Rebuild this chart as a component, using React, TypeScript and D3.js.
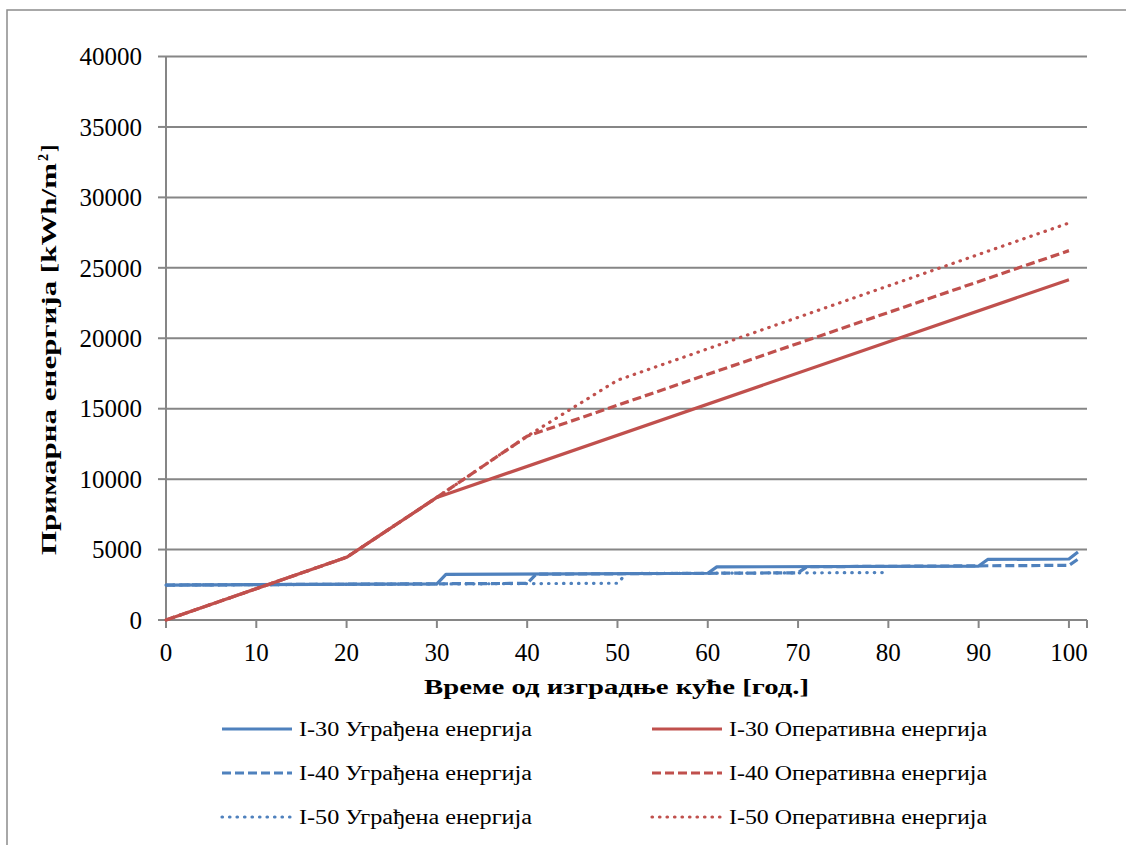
import React from "react";
import * as d3 from "d3";

type Pt = [number, number];

// Embodied energy (Уграђена енергија), breakpoints [year, kWh/m²]
const embodiedI30: Pt[] = [[0, 2480], [30, 2570], [31, 3240], [60, 3320], [61, 3770], [90, 3830], [91, 4300], [100, 4330], [101, 4820]];
const embodiedI40: Pt[] = [[0, 2480], [40, 2600], [41, 3250], [70, 3350], [71, 3780], [100, 3880], [101, 4320]];
const embodiedI50: Pt[] = [[0, 2480], [50, 2610], [51, 3300], [80, 3370]];

// Operational energy (Оперативна енергија)
const operI30: Pt[] = [[0, 0], [20, 4450], [30, 8700], [100, 24160]];
const operI40: Pt[] = [[0, 0], [20, 4450], [30, 8700], [40, 13050], [100, 26220]];
const operI50: Pt[] = [[0, 0], [20, 4450], [30, 8700], [40, 13050], [50, 17020], [100, 28180]];

const xTicks = [0, 10, 20, 30, 40, 50, 60, 70, 80, 90, 100];
const yTicks = [0, 5000, 10000, 15000, 20000, 25000, 30000, 35000, 40000];

const seriesNames = [
  "I-30 Уграђена енергија",
  "I-30 Оперативна енергија",
  "I-40 Уграђена енергија",
  "I-40 Оперативна енергија",
  "I-50 Уграђена енергија",
  "I-50 Оперативна енергија",
];

const BLUE = "#4F81BD";
const RED = "#C0504D";
const GRID = "#868686";
const FONT = "'Liberation Serif', 'DejaVu Serif', 'Times New Roman', serif";

const DASH = "9,4";
const DOT = "0.5,7";

export default function App() {
  const W = 1126;
  const H = 845;
  const x = d3.scaleLinear().domain([0, 102]).range([166, 1087]);
  const y = d3.scaleLinear().domain([0, 40000]).range([620, 56.5]);
  const line = d3
    .line<Pt>()
    .x((d) => x(d[0]))
    .y((d) => y(d[1]));

  const series = [
    { name: seriesNames[0], data: embodiedI30, color: BLUE, dash: undefined as string | undefined },
    { name: seriesNames[2], data: embodiedI40, color: BLUE, dash: DASH },
    { name: seriesNames[4], data: embodiedI50, color: BLUE, dash: DOT },
    { name: seriesNames[1], data: operI30, color: RED, dash: undefined },
    { name: seriesNames[3], data: operI40, color: RED, dash: DASH },
    { name: seriesNames[5], data: operI50, color: RED, dash: DOT },
  ];

  const legend = [
    { name: seriesNames[0], color: BLUE, dash: undefined as string | undefined, col: 0, row: 0 },
    { name: seriesNames[1], color: RED, dash: undefined, col: 1, row: 0 },
    { name: seriesNames[2], color: BLUE, dash: DASH, col: 0, row: 1 },
    { name: seriesNames[3], color: RED, dash: DASH, col: 1, row: 1 },
    { name: seriesNames[4], color: BLUE, dash: DOT, col: 0, row: 2 },
    { name: seriesNames[5], color: RED, dash: DOT, col: 1, row: 2 },
  ];
  const legCols = [222, 652];
  const legTextLen = [233, 258];
  const legRows = [729, 773, 817];

  return (
    <svg width={W} height={H} style={{ position: "absolute", left: 0, top: 0, background: "#fff" }} fontFamily={FONT}>
      <rect x={7} y={10} width={W + 20} height={H + 20} fill="#fff" stroke="#8c8c8c" strokeWidth={1.5} />
      {/* gridlines */}
      {yTicks.map((t) => (
        <line key={"g" + t} x1={x(0)} x2={x(102)} y1={y(t)} y2={y(t)} stroke={GRID} strokeWidth={2} />
      ))}
      {/* y axis */}
      <line x1={x(0)} x2={x(0)} y1={y(0)} y2={y(40000)} stroke={GRID} strokeWidth={2} />
      {yTicks.map((t) => (
        <g key={"yt" + t}>
          <line x1={x(0) - 8} x2={x(0)} y1={y(t)} y2={y(t)} stroke={GRID} strokeWidth={2} />
          <text x={142} y={y(t)} dy="0.35em" textAnchor="end" fontSize={25} fill="#000">
            {t}
          </text>
        </g>
      ))}
      {/* x axis ticks */}
      {xTicks.map((t) => (
        <g key={"xt" + t}>
          <line x1={x(t)} x2={x(t)} y1={y(0)} y2={y(0) + 8} stroke={GRID} strokeWidth={2} />
          <text x={x(t)} y={661} textAnchor="middle" fontSize={25} fill="#000">
            {t}
          </text>
        </g>
      ))}
      <line x1={x(102)} x2={x(102)} y1={y(0)} y2={y(0) + 8} stroke={GRID} strokeWidth={2} />
      {/* series */}
      {series.map((s) => (
        <path
          key={s.name}
          d={line(s.data) || ""}
          fill="none"
          stroke={s.color}
          strokeWidth={3.2}
          strokeDasharray={s.dash}
          strokeLinecap={s.dash === DOT ? "round" : "butt"}
          strokeLinejoin="round"
        />
      ))}
      {/* axis titles */}
      <text
        x={424}
        y={694}
        fontSize={22}
        fontWeight="bold"
        fill="#000"
        textLength={385}
        lengthAdjust="spacingAndGlyphs"
      >
        Време од изградње куће [год.]
      </text>
      <g transform={`translate(56, 555) rotate(-90)`}>
        <text
          x={0}
          y={0}
          fontSize={22}
          fontWeight="bold"
          fill="#000"
          textLength={392}
          lengthAdjust="spacingAndGlyphs"
        >
          Примарна енергија [kWh/m
        </text>
        <text x={394} y={-8} fontSize={14} fontWeight="bold" fill="#000">
          2
        </text>
        <text x={403} y={0} fontSize={22} fontWeight="bold" fill="#000">
          ]
        </text>
      </g>
      {/* legend */}
      {legend.map((l) => (
        <g key={"l" + l.name}>
          <line
            x1={legCols[l.col]}
            x2={legCols[l.col] + 70}
            y1={legRows[l.row]}
            y2={legRows[l.row]}
            stroke={l.color}
            strokeWidth={3.2}
            strokeDasharray={l.dash}
            strokeLinecap={l.dash === DOT ? "round" : "butt"}
          />
          <text
            x={legCols[l.col] + 77}
            y={legRows[l.row]}
            dy="0.35em"
            fontSize={20}
            fill="#000"
            textLength={legTextLen[l.col]}
            lengthAdjust="spacingAndGlyphs"
          >
            {l.name}
          </text>
        </g>
      ))}
    </svg>
  );
}
